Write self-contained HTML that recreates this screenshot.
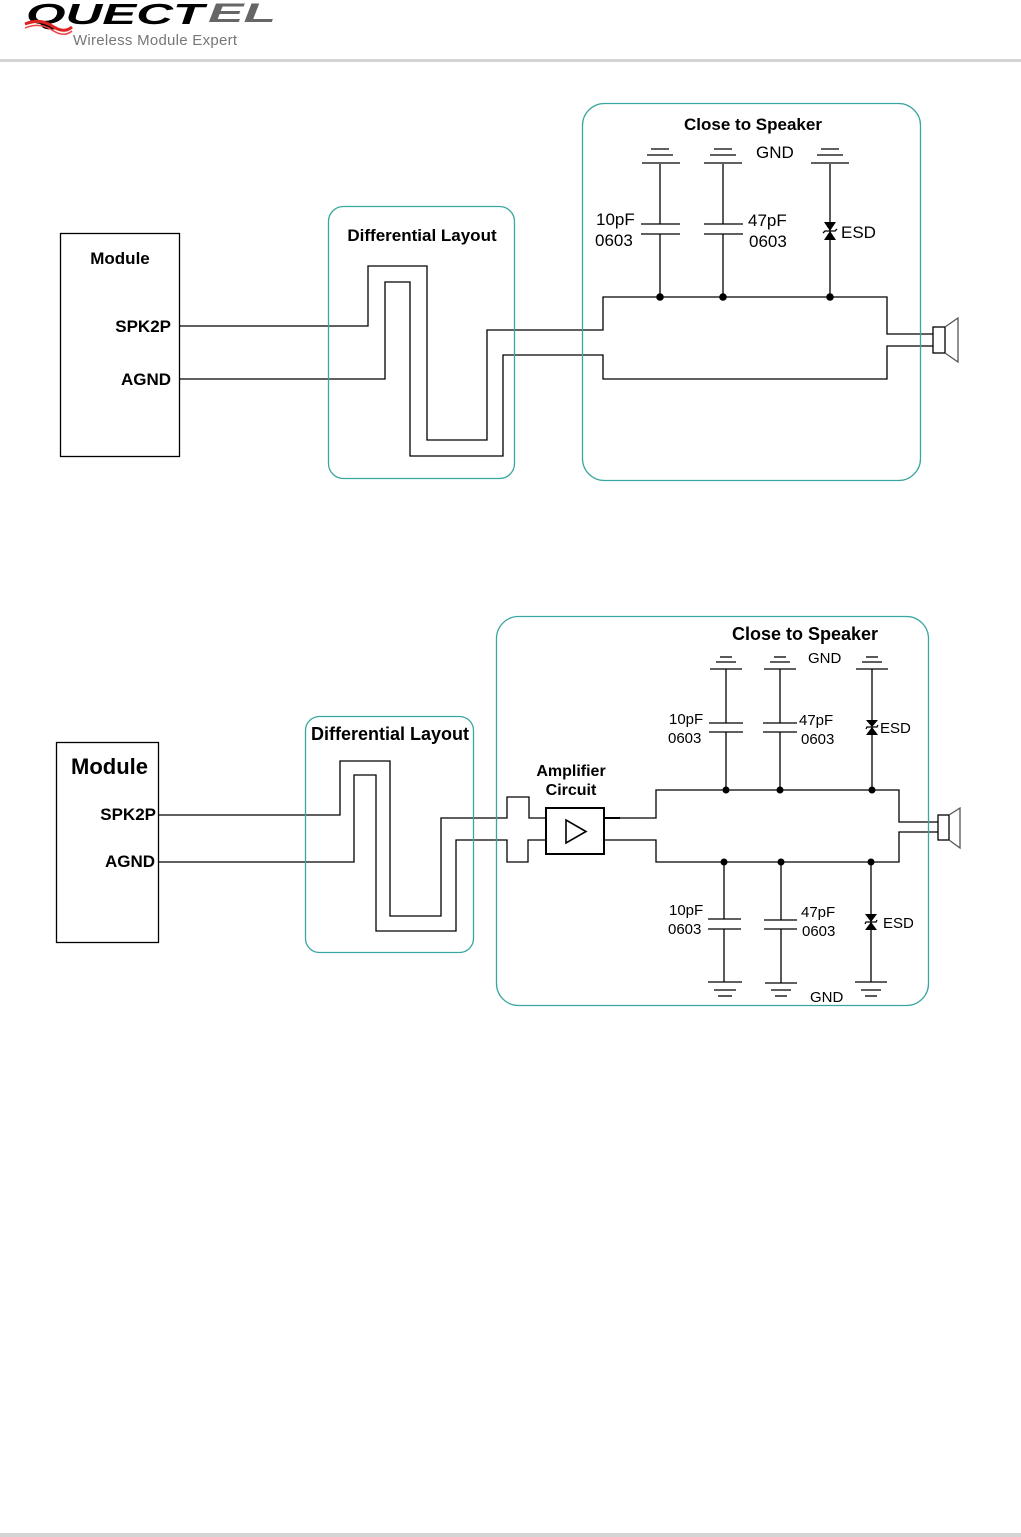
<!DOCTYPE html>
<html><head><meta charset="utf-8"><style>
html,body{margin:0;padding:0;background:#fff;}
svg{display:block;}
text{font-family:"Liberation Sans",Arial,sans-serif;fill:#000;}
</style></head><body>
<svg width="1021" height="1537" viewBox="0 0 1021 1537" xmlns="http://www.w3.org/2000/svg">
<!-- header -->
<text x="26" y="24" font-size="29" font-weight="bold" font-style="italic" textLength="178" lengthAdjust="spacingAndGlyphs">QUECT</text>
<text x="208" y="22" font-size="27" font-weight="bold" font-style="italic" textLength="68" lengthAdjust="spacingAndGlyphs" style="fill:#666">EL</text>
<path d="M25 24 Q40 18 52 26 T72 27" stroke="#d22" stroke-width="3" fill="none"/>
<path d="M25 28 Q40 22 52 30 T72 31" stroke="#e44" stroke-width="1.5" fill="none"/>
<text x="73" y="45" font-size="15" textLength="164" style="fill:#777">Wireless Module Expert</text>
<rect x="0" y="59" width="1021" height="3" fill="#d4d4d4"/>
<rect x="0" y="1533" width="1021" height="4" fill="#d4d4d4"/>

<g fill="none" stroke="#000" stroke-width="1.3">
<!-- Diagram 1 -->
<rect x="60.5" y="233.5" width="119" height="223"/>
<polyline points="179,326 368,326 368,266 427,266 427,440 487,440 487,330 603,330 603,297 887,297 887,334 933,334"/>
<polyline points="179,379 385,379 385,282 410,282 410,456 503,456 503,355 603,355 603,379 887,379 887,346 933,346"/>
<rect x="933" y="327" width="12" height="26"/>
<polyline points="945,327 958,318 958,362 945,353" stroke="#555"/>
<line x1="660" y1="164" x2="660" y2="224"/><line x1="660" y1="234" x2="660" y2="297"/>
<line x1="641" y1="224" x2="680" y2="224"/><line x1="641" y1="234" x2="680" y2="234"/>
<line x1="642" y1="163" x2="680" y2="163"/><line x1="647" y1="155" x2="673" y2="155"/><line x1="651" y1="149" x2="669" y2="149"/>
<line x1="723" y1="164" x2="723" y2="224"/><line x1="723" y1="234" x2="723" y2="297"/>
<line x1="704" y1="224" x2="743" y2="224"/><line x1="704" y1="234" x2="743" y2="234"/>
<line x1="704" y1="163" x2="742" y2="163"/><line x1="710" y1="155" x2="736" y2="155"/><line x1="714" y1="149" x2="732" y2="149"/>
<line x1="830" y1="164" x2="830" y2="297"/>
<line x1="811" y1="163" x2="849" y2="163"/><line x1="817" y1="155" x2="843" y2="155"/><line x1="821" y1="149" x2="839" y2="149"/>
<polyline points="823,233 825,231 835,231 837,229" />

<!-- Diagram 2 -->
<rect x="56.5" y="742.5" width="102" height="200"/>
<polyline points="158,815 340,815 340,761 390,761 390,916 441,916 441,818 507,818 507,797 529,797 529,818 546,818"/>
<polyline points="158,862 354,862 354,775 376,775 376,931 456,931 456,840 507,840 507,862 528,862 528,840 546,840"/>
<rect x="546" y="808" width="58" height="46" stroke-width="2"/>
<polygon points="566,820 566,843 586,831.5" stroke-width="1.6"/>
<line x1="604" y1="818" x2="620" y2="818" stroke-width="2"/>
<polyline points="620,818 656,818 656,790 899,790 899,822 938,822"/>
<polyline points="604,840 656,840 656,862 899,862 899,832 938,832"/>
<rect x="938" y="815" width="11" height="25"/>
<polyline points="949,815 960,808 960,848 949,840" stroke="#555"/>
<line x1="726" y1="669" x2="726" y2="723"/><line x1="726" y1="732" x2="726" y2="790"/>
<line x1="709" y1="723" x2="743" y2="723"/><line x1="709" y1="732" x2="743" y2="732"/>
<line x1="710" y1="669" x2="742" y2="669"/><line x1="716" y1="662" x2="736" y2="662"/><line x1="720" y1="657" x2="732" y2="657"/>
<line x1="780" y1="669" x2="780" y2="723"/><line x1="780" y1="732" x2="780" y2="790"/>
<line x1="763" y1="723" x2="797" y2="723"/><line x1="763" y1="732" x2="797" y2="732"/>
<line x1="764" y1="669" x2="796" y2="669"/><line x1="770" y1="662" x2="790" y2="662"/><line x1="774" y1="657" x2="786" y2="657"/>
<line x1="872" y1="669" x2="872" y2="790"/>
<line x1="856" y1="669" x2="888" y2="669"/><line x1="862" y1="662" x2="882" y2="662"/><line x1="866" y1="657" x2="878" y2="657"/>
<polyline points="866,729 867,727 877,727 878,725"/>
<line x1="724" y1="862" x2="724" y2="919"/><line x1="724" y1="929" x2="724" y2="982"/>
<line x1="708" y1="919" x2="741" y2="919"/><line x1="708" y1="929" x2="741" y2="929"/>
<line x1="708" y1="982" x2="742" y2="982"/><line x1="714" y1="990" x2="736" y2="990"/><line x1="718" y1="996" x2="732" y2="996"/>
<line x1="781" y1="862" x2="781" y2="920"/><line x1="781" y1="929" x2="781" y2="983"/>
<line x1="764" y1="920" x2="797" y2="920"/><line x1="764" y1="929" x2="797" y2="929"/>
<line x1="765" y1="983" x2="797" y2="983"/><line x1="771" y1="990" x2="791" y2="990"/><line x1="775" y1="996" x2="787" y2="996"/>
<line x1="871" y1="862" x2="871" y2="982"/>
<line x1="855" y1="982" x2="887" y2="982"/><line x1="861" y1="990" x2="881" y2="990"/><line x1="865" y1="996" x2="877" y2="996"/>
<polyline points="865,924 866,922 876,922 877,920"/>
</g>
<g fill="#000">
<polygon points="824,222 836,222 830,231"/><polygon points="824,240 836,240 830,231"/>
<polygon points="866,720 878,720 872,727"/><polygon points="866,735 878,735 872,727"/>
<polygon points="865,914 877,914 871,922"/><polygon points="865,930 877,930 871,922"/>
<circle cx="660" cy="297" r="3.8"/><circle cx="723" cy="297" r="3.8"/><circle cx="830" cy="297" r="3.8"/>
<circle cx="726" cy="790" r="3.5"/><circle cx="780" cy="790" r="3.5"/><circle cx="872" cy="790" r="3.5"/>
<circle cx="724" cy="862" r="3.5"/><circle cx="781" cy="862" r="3.5"/><circle cx="871" cy="862" r="3.5"/>
</g>
<g fill="none" stroke="#3aa6a0" stroke-width="1.3">
<rect x="328.5" y="206.5" width="186" height="272" rx="15"/>
<rect x="582.5" y="103.5" width="338" height="377" rx="22"/>
<rect x="305.5" y="716.5" width="168" height="236" rx="14"/>
<rect x="496.5" y="616.5" width="432" height="389" rx="22"/>
</g>
<g font-size="17">
<text x="120" y="264" text-anchor="middle" font-weight="bold">Module</text>
<text x="171" y="332" text-anchor="end" font-weight="bold">SPK2P</text>
<text x="171" y="385" text-anchor="end" font-weight="bold">AGND</text>
<text x="422" y="241" text-anchor="middle" font-weight="bold">Differential Layout</text>
<text x="753" y="130" text-anchor="middle" font-weight="bold">Close to Speaker</text>
<text x="756" y="158">GND</text>
<text x="596" y="225">10pF</text><text x="595" y="246">0603</text>
<text x="748" y="226">47pF</text><text x="749" y="247">0603</text>
<text x="841" y="238">ESD</text>
</g>
<text x="71" y="774" font-size="22" font-weight="bold">Module</text>
<text x="156" y="820" font-size="17" font-weight="bold" text-anchor="end">SPK2P</text>
<text x="155" y="867" font-size="17" font-weight="bold" text-anchor="end">AGND</text>
<text x="390" y="740" font-size="18" font-weight="bold" text-anchor="middle">Differential Layout</text>
<text x="805" y="640" font-size="18" font-weight="bold" text-anchor="middle">Close to Speaker</text>
<text x="571" y="776" font-size="16" font-weight="bold" text-anchor="middle">Amplifier</text>
<text x="571" y="795" font-size="16" font-weight="bold" text-anchor="middle">Circuit</text>
<g font-size="15">
<text x="808" y="663">GND</text>
<text x="669" y="724">10pF</text><text x="668" y="743">0603</text>
<text x="799" y="725">47pF</text><text x="801" y="744">0603</text>
<text x="880" y="733">ESD</text>
<text x="669" y="915">10pF</text><text x="668" y="934">0603</text>
<text x="801" y="917">47pF</text><text x="802" y="936">0603</text>
<text x="883" y="928">ESD</text>
<text x="810" y="1002">GND</text>
</g>
</svg>
</body></html>
